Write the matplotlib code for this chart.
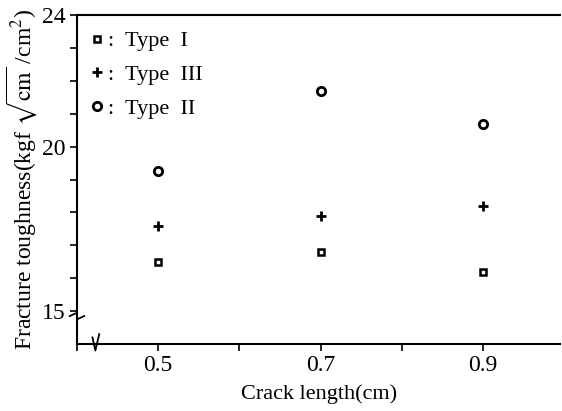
import matplotlib
matplotlib.use("Agg")
import matplotlib.pyplot as plt

plt.rcParams['font.family'] = ['Liberation Serif', 'DejaVu Serif']
plt.rcParams['mathtext.fontset'] = 'stix'

# crack length (cm)
crack = [0.5, 0.7, 0.9]
# fracture toughness for each type
type1 = [16.5, 16.8, 16.2]
type3 = [17.6, 17.9, 18.2]
type2 = [19.25, 21.7, 20.7]

fig = plt.figure(figsize=(5.62, 4.11), dpi=100)
ax = fig.add_axes([0.137, 0.163, 0.86, 0.80])

ax.plot(crack, type1, ls='none', marker='s', ms=4.5, mfc='white', mec='black', mew=1.8, label=':  Type  I')
ax.plot(crack, type3, ls='none', marker='+', ms=7, mec='black', mew=2, label=':  Type  III')
ax.plot(crack, type2, ls='none', marker='o', ms=6, mfc='white', mec='black', mew=2, label=':  Type  II')

ax.set_xlim(0.4, 0.995)
ax.set_ylim(14, 24)
ax.set_xticks([0.4, 0.5, 0.6, 0.7, 0.8, 0.9])
ax.set_xticklabels(['', '0.5', '', '0.7', '', '0.9'])
ax.set_yticks(range(15, 25))
ax.set_yticklabels(['15', '', '', '', '', '20', '', '', '', '24'])
ax.tick_params(labelsize=17, length=5, width=1.2, direction='out', pad=3)
ax.spines['right'].set_visible(False)
for s in ['left', 'bottom', 'top']:
    ax.spines[s].set_linewidth(1.5)

ax.set_xlabel('Crack length(cm)', fontsize=16, labelpad=6)
ax.set_ylabel(r'Fracture toughness(kgf $\sqrt{\mathrm{cm}}$ /cm$^{2}$)', fontsize=17, labelpad=2)

ax.legend(loc='upper left', frameon=False, fontsize=16, handlelength=0.4,
          handletextpad=0.3, labelspacing=0.6, borderaxespad=0.3)

# axis break marks
ax.plot([-0.015, 0.0, 0.0, 0.015], [0.085, 0.095, 0.075, 0.085], transform=ax.transAxes,
        color='black', lw=1.3, clip_on=False)
ax.plot([0.032, 0.038, 0.046], [0.02, -0.02, 0.03], transform=ax.transAxes,
        color='black', lw=1.3, clip_on=False)

fig.savefig('out.png', dpi=100)
